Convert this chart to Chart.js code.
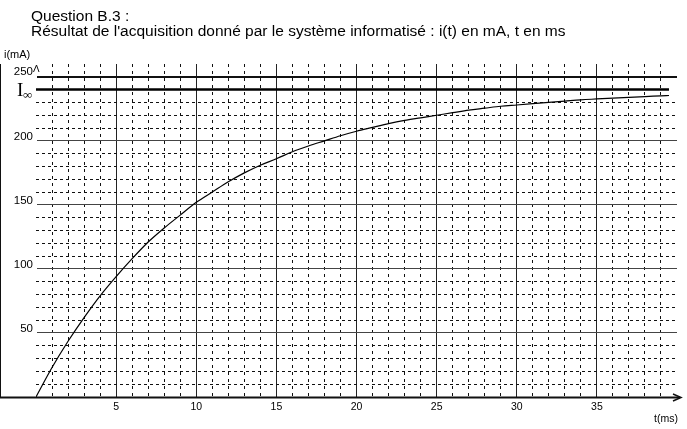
<!DOCTYPE html>
<html><head><meta charset="utf-8">
<script src="https://cdn.jsdelivr.net/npm/chart.js@4"></script>
<style>html,body{margin:0;padding:0;background:#fff}#wrap{width:687px;height:429px}</style>
</head><body><div id="wrap"><canvas id="c" width="687" height="429"></canvas></div>
<script>
// ---- data ----
const titleLines = ["Question B.3 :", "Résultat de l'acquisition donné par le système informatisé : i(t) en mA, t en ms"];
const yAxisLabel = "i(mA)";
const xAxisLabel = "t(ms)";
const asymptoteName = "I";
const asymptoteSub = "∞";
const timeMs = [0,1,2,3,4,5,6,7,8,9,10,11,12,13,14,15,16,17,18,19,20,21,22,23,24,25,26,27,28,29,30,31,32,33,34,35,36,37,38,39,39.5];
const currentMA = [0,23,43.5,62,79,94,108,121,132,142,152,160,168,175,181,186,191.5,196,200,204,207.5,210.5,213.5,216,218,220,222,224,225.5,227,228,229,230,231,232,232.7,233.4,234,234.6,235.1,235.4];
const asymptoteMA = 240;
const xRange = [0, 40];
const yRange = [0, 260];
const xLabelledTicks = [5,10,15,20,25,30,35];
const yLabelledTicks = [50,100,150,200,250];
const xMajorStep = 5, xMinorStep = 1, yMajorStep = 50, yMinorStep = 10;

const SANS = '"Liberation Sans", Arial, sans-serif';
const SERIF = '"Liberation Serif", "Times New Roman", serif';

const overlay = {
  id: 'overlay',
  afterDraw(chart) {
    const ctx = chart.ctx;
    const xs = chart.scales.x, ys = chart.scales.y;
    const ca = chart.chartArea;
    const x0 = xs.getPixelForValue(0), y0 = ys.getPixelForValue(0);
    ctx.save();
    ctx.fillStyle = '#000';
    ctx.textBaseline = 'alphabetic';
    ctx.textAlign = 'left';
    ctx.font = '15.5px ' + SANS;
    ctx.fillText(titleLines[0], 31, 21);
    ctx.fillText(titleLines[1], 31, 36);
    ctx.font = '11px ' + SANS;
    ctx.fillText(yAxisLabel, 4, 58);
    ctx.font = '10.5px ' + SANS;
    ctx.fillText(xAxisLabel, 654, 422);
    // I infinity label
    const ya = ys.getPixelForValue(asymptoteMA);
    ctx.font = '19px ' + SERIF;
    ctx.fillText(asymptoteName, 17, ya + 6);
    ctx.font = '13px ' + SERIF;
    ctx.fillText(asymptoteSub, 23, ya + 9);
    // extended x axis with arrow
    ctx.strokeStyle = '#111';
    ctx.lineWidth = 2;
    ctx.beginPath();
    ctx.moveTo(0, y0 + 0.5); ctx.lineTo(ca.right + 3, y0 + 0.5);
    ctx.stroke();
    ctx.lineWidth = 1.5;
    ctx.beginPath();
    ctx.moveTo(ca.right - 4, y0 - 3); ctx.lineTo(ca.right + 4, y0 + 0.5); ctx.lineTo(ca.right - 4, y0 + 4);
    ctx.stroke();
    // y axis arrow
    ctx.lineWidth = 1;
    ctx.beginPath();
    ctx.moveTo(x0 - 2.5, ca.top + 8); ctx.lineTo(x0 + 0.5, ca.top + 1); ctx.lineTo(x0 + 3, ca.top + 8);
    ctx.stroke();
    ctx.restore();
  }
};

const isMult = (v, s) => Math.abs(v / s - Math.round(v / s)) < 1e-6;

new Chart(document.getElementById('c'), {
  type: 'line',
  data: {
    datasets: [
      {
        data: timeMs.map((t, i) => ({x: t, y: currentMA[i]})),
        borderColor: '#000', borderWidth: 1.2, pointRadius: 0,
        cubicInterpolationMode: 'monotone', fill: false
      },
      {
        data: [{x: xRange[0], y: asymptoteMA}, {x: xRange[1] - 0.5, y: asymptoteMA}],
        borderColor: '#000', borderWidth: 2.5, pointRadius: 0, fill: false
      }
    ]
  },
  options: {
    responsive: false, animation: false, devicePixelRatio: 1,
    layout: {padding: {top: 64, right: 10, left: 0, bottom: 0}},
    plugins: {legend: {display: false}, tooltip: {enabled: false}, title: {display: false}},
    scales: {
      x: {
        type: 'linear', position: 'bottom', min: xRange[0], max: xRange[1],
        afterFit: s => { s.height = 32; },
        ticks: {
          stepSize: xMinorStep, autoSkip: false, maxRotation: 0, padding: 4, includeBounds: false,
          color: '#000', font: {family: SANS, size: 10.5},
          callback: v => xLabelledTicks.includes(v) ? String(v) : ''
        },
        grid: {
          drawTicks: false, lineWidth: 1,
          color: c => (isMult(c.tick.value, xMajorStep) || c.tick.value >= xRange[1]) ? 'rgba(0,0,0,0)' : '#111'
        },
        border: {display: false, dash: [3, 4]}
      },
      x2: {
        type: 'linear', position: 'bottom', min: xRange[0], max: xRange[1],
        afterFit: s => { s.height = 0; },
        ticks: {display: false, stepSize: xMajorStep, includeBounds: false},
        grid: {
          drawTicks: false, lineWidth: 1,
          color: c => (c.tick.value <= 0 || c.tick.value >= xRange[1]) ? 'rgba(0,0,0,0)' : '#222'
        },
        border: {display: false}
      },
      y: {
        type: 'linear', position: 'left', min: yRange[0], max: yRange[1],
        afterFit: s => { s.width = 36; },
        ticks: {
          stepSize: yMinorStep, autoSkip: false, padding: 3, labelOffset: -4.5, includeBounds: false,
          color: '#000', font: {family: SANS, size: 11.5},
          callback: v => yLabelledTicks.includes(v) ? String(v) : ''
        },
        grid: {
          drawTicks: false, lineWidth: 1,
          color: c => (isMult(c.tick.value, yMajorStep) || c.tick.value === asymptoteMA || c.tick.value >= yRange[1]) ? 'rgba(0,0,0,0)' : '#111'
        },
        border: {display: false, dash: [3, 3]}
      },
      y2: {
        type: 'linear', position: 'left', min: yRange[0], max: yRange[1],
        afterFit: s => { s.width = 0; },
        ticks: {display: false, stepSize: yMajorStep, includeBounds: false},
        grid: {
          drawTicks: false,
          lineWidth: c => c.tick.value === 250 ? 2 : 1,
          color: c => (c.tick.value >= yRange[1] || c.tick.value <= 0) ? 'rgba(0,0,0,0)' : (c.tick.value === 250 ? '#111' : '#444')
        },
        border: {display: true, color: '#111', width: 1}
      }
    }
  },
  plugins: [overlay]
});
</script>
</body></html>
